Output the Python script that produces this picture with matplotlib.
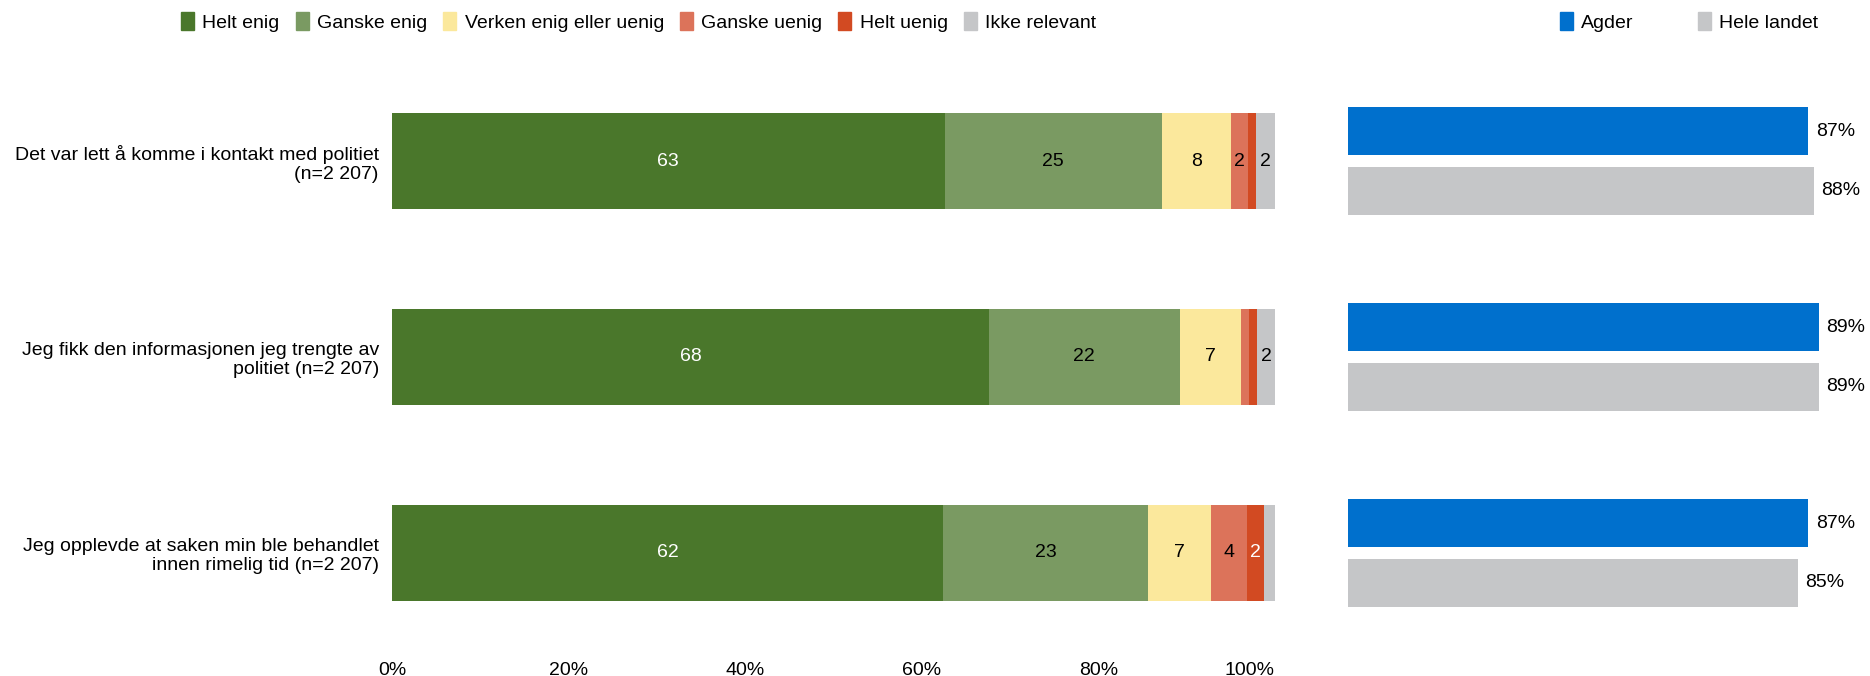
import matplotlib.pyplot as plt
from matplotlib.patches import Patch

plt.rcParams['font.family'] = ['Liberation Sans', 'DejaVu Sans']
plt.rcParams['font.size'] = 14

questions = [
    'Det var lett å komme i kontakt med politiet\n(n=2 207)',
    'Jeg fikk den informasjonen jeg trengte av\npolitiet (n=2 207)',
    'Jeg opplevde at saken min ble behandlet\ninnen rimelig tid (n=2 207)',
]
answers = ['Helt enig', 'Ganske enig', 'Verken enig eller uenig',
           'Ganske uenig', 'Helt uenig', 'Ikke relevant']
helt_enig = [62.6, 67.6, 62.4]
ganske_enig = [24.6, 21.6, 23.2]
verken = [7.8, 7.0, 7.2]
ganske_uenig = [2.0, 0.9, 4.0]
helt_uenig = [0.9, 0.9, 2.0]
ikke_relevant = [2.1, 2.0, 1.2]

regions = ['Agder', 'Hele landet']
agder = [87, 89, 87]
hele_landet = [88, 89, 85]

colors = ['#4a772b', '#7a9a62', '#fbe89c', '#dc735a', '#d24a22', '#c5c6c8']
text_colors = ['white', 'black', 'black', 'black', 'white', 'black']
region_colors = ['#0070cd', '#c5c6c8']

fig = plt.figure(figsize=(18.7, 6.76), dpi=100)
ax = fig.add_axes([0.2096, 0.037, 0.4722, 0.8698])
ax2 = fig.add_axes([0.7209, 0.037, 0.2829, 0.8698])

series = [helt_enig, ganske_enig, verken, ganske_uenig, helt_uenig, ikke_relevant]
ypos = list(range(len(questions)))
left = [0.0] * len(questions)
for vals, col, tcol in zip(series, colors, text_colors):
    ax.barh(ypos, vals, left=left, height=0.49, color=col, linewidth=0)
    for i, v in enumerate(vals):
        if v >= 1.5:
            ax.text(left[i] + v / 2, i, str(round(v)), ha='center', va='center',
                    color=tcol)
    left = [l + v for l, v in zip(left, vals)]

ax.set_xlim(0, 100)
ax.set_ylim(2.5, -0.5)
ax.set_yticks(ypos)
ax.set_yticklabels(questions, linespacing=1.15)
ax.set_xticks([0, 20, 40, 60, 80, 100])
xl = ax.set_xticklabels(['0%', '20%', '40%', '60%', '80%', '100%'])
xl[-1].set_ha('right')
ax.tick_params(length=0)
ax.tick_params(axis='y', pad=9.5)
ax.tick_params(axis='x', pad=8)
for s in ax.spines.values():
    s.set_visible(False)

# right panel
offs = [-0.153, 0.153]
for vals, col, off in zip([agder, hele_landet], region_colors, offs):
    ax2.barh([y + off for y in ypos], vals, height=0.245, color=col, linewidth=0)
    for i, v in enumerate(vals):
        ax2.annotate(f'{v}%', (v, i + off), xytext=(5.5, 0),
                     textcoords='offset points', va='center', ha='left')
ax2.set_xlim(0, 100)
ax2.set_ylim(2.5, -0.5)
ax2.set_xticks([])
ax2.set_yticks([])
for s in ax2.spines.values():
    s.set_visible(False)

handles = [Patch(color=c, label=a) for c, a in zip(colors, answers)]
fig.legend(handles=handles, loc='center left', bbox_to_anchor=(181 / 1870, 1 - 22 / 676),
           ncol=6, frameon=False, handlelength=0.67, handleheight=1.0,
           handletextpad=0.43, columnspacing=0.82, borderpad=0, borderaxespad=0)
handles2 = [Patch(color=c, label=r) for c, r in zip(region_colors, regions)]
fig.legend(handles=handles2, loc='center left', bbox_to_anchor=(1560 / 1870, 1 - 22 / 676),
           ncol=2, frameon=False, handlelength=0.67, handleheight=1.0,
           handletextpad=0.43, columnspacing=3.3, borderpad=0, borderaxespad=0)

fig.savefig('out.png', dpi=100)
